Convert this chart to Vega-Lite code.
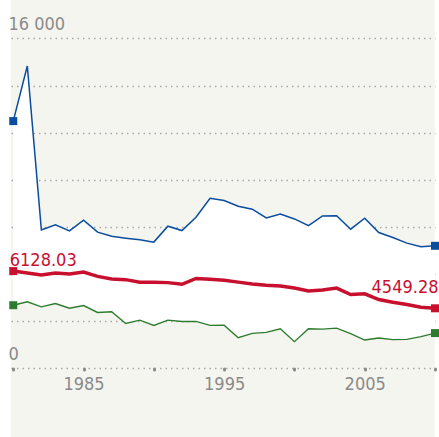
{
  "$schema": "https://vega.github.io/schema/vega-lite/v6.json",
  "width": 424,
  "height": 437,
  "autosize": {"type": "none"},
  "padding": {"left": 11, "right": 4, "top": 0, "bottom": 0},
  "background": "#ffffff",
  "config": {
    "view": {"fill": "#f5f5f0", "stroke": null},
    "font": "DejaVu Sans Condensed, Roboto, sans-serif",
    "axis": {"labelFont": "DejaVu Sans Condensed, Roboto, sans-serif", "labelFontSize": 18, "labelColor": "#8a8a8a", "title": null}
  },
  "data": {
    "values": [
      {"year": 1980, "max": 12494, "mean": 6128.03, "min": 4680},
      {"year": 1981, "max": 14834, "mean": 6049, "min": 4824},
      {"year": 1982, "max": 7878, "mean": 5964, "min": 4612},
      {"year": 1983, "max": 8089, "mean": 6049, "min": 4752},
      {"year": 1984, "max": 7835, "mean": 6006, "min": 4553},
      {"year": 1985, "max": 8287, "mean": 6091, "min": 4667},
      {"year": 1986, "max": 7780, "mean": 5905, "min": 4372},
      {"year": 1987, "max": 7611, "mean": 5795, "min": 4401},
      {"year": 1988, "max": 7527, "mean": 5766, "min": 3907},
      {"year": 1989, "max": 7455, "mean": 5652, "min": 4046},
      {"year": 1990, "max": 7358, "mean": 5652, "min": 3823},
      {"year": 1991, "max": 8034, "mean": 5639, "min": 4046},
      {"year": 1992, "max": 7848, "mean": 5567, "min": 3992},
      {"year": 1993, "max": 8414, "mean": 5816, "min": 3992},
      {"year": 1994, "max": 9216, "mean": 5778, "min": 3823},
      {"year": 1995, "max": 9124, "mean": 5736, "min": 3835},
      {"year": 1996, "max": 8883, "mean": 5660, "min": 3303},
      {"year": 1997, "max": 8756, "mean": 5584, "min": 3485},
      {"year": 1998, "max": 8384, "mean": 5525, "min": 3527},
      {"year": 1999, "max": 8553, "mean": 5491, "min": 3683},
      {"year": 2000, "max": 8342, "mean": 5407, "min": 3134},
      {"year": 2001, "max": 8059, "mean": 5280, "min": 3683},
      {"year": 2002, "max": 8469, "mean": 5322, "min": 3666},
      {"year": 2003, "max": 8482, "mean": 5407, "min": 3709},
      {"year": 2004, "max": 7907, "mean": 5132, "min": 3472},
      {"year": 2005, "max": 8372, "mean": 5162, "min": 3202},
      {"year": 2006, "max": 7764, "mean": 4921, "min": 3286},
      {"year": 2007, "max": 7552, "mean": 4807, "min": 3219},
      {"year": 2008, "max": 7316, "mean": 4710, "min": 3231},
      {"year": 2009, "max": 7160, "mean": 4596, "min": 3345},
      {"year": 2010, "max": 7202, "mean": 4549.28, "min": 3497}
    ]
  },
  "encoding": {
    "x": {
      "field": "year", "type": "quantitative",
      "scale": {"domain": [1979.84, 2010], "nice": false, "zero": false},
      "axis": {
        "values": [1980, 1985, 1990, 1995, 2000, 2005, 2010],
        "labelExpr": "(datum.value - 1985) % 10 == 0 ? datum.value : ''",
        "domain": false, "grid": false,
        "ticks": true, "tickSize": 1, "tickWidth": 3, "tickCap": "round", "tickColor": "#8a8a8a",
        "labelPadding": 6, "labelFlush": false, "labelOverlap": false,
        "offset": -68.6
      }
    }
  },
  "layer": [
    {
      "mark": {"type": "area", "color": "#ffffff", "opacity": 1},
      "encoding": {
        "y": {
          "field": "max", "type": "quantitative",
          "scale": {"domain": [-913, 17634], "nice": false, "zero": false},
          "axis": {
            "values": [2000, 4000, 6000, 8000, 10000, 12000, 14000, 16000],
            "labelExpr": "datum.value == 16000 ? '16 000' : (datum.value == 2000 ? '0' : '')",
            "domain": false, "ticks": false, "tickSize": 0,
            "labelAlign": "left", "labelBaseline": "alphabetic", "labelPadding": 3, "labelOffset": -8.5,
            "grid": true, "gridColor": "#a8a8a8", "gridDash": [1.5, 4], "gridWidth": 1.4,
            "labelOverlap": false
          }
        },
        "y2": {"field": "min"}
      }
    },
    {
      "mark": {"type": "line", "color": "#0a4c9e", "strokeWidth": 1.5},
      "encoding": {"y": {"field": "max", "type": "quantitative"}}
    },
    {
      "mark": {"type": "line", "color": "#c8102e", "strokeWidth": 3.5},
      "encoding": {"y": {"field": "mean", "type": "quantitative"}}
    },
    {
      "mark": {"type": "line", "color": "#2e7d2e", "strokeWidth": 1.4},
      "encoding": {"y": {"field": "min", "type": "quantitative"}}
    },
    {
      "transform": [
        {"filter": "datum.year == 1980 || datum.year == 2010"},
        {"fold": ["max", "mean", "min"], "as": ["series", "value"]}
      ],
      "mark": {"type": "point", "shape": "square", "filled": true, "size": 64, "opacity": 1},
      "encoding": {
        "y": {"field": "value", "type": "quantitative"},
        "color": {
          "field": "series", "type": "nominal",
          "scale": {"domain": ["max", "mean", "min"], "range": ["#0a4c9e", "#c8102e", "#2e7d2e"]},
          "legend": null
        }
      }
    },
    {
      "transform": [{"filter": "datum.year == 1980"}],
      "mark": {"type": "text", "align": "left", "baseline": "alphabetic", "dx": -3.5, "dy": -5, "fontSize": 18, "color": "#c8102e", "font": "DejaVu Sans Condensed, Roboto, sans-serif"},
      "encoding": {
        "y": {"field": "mean", "type": "quantitative"},
        "text": {"field": "mean", "type": "quantitative", "format": ".2f"}
      }
    },
    {
      "transform": [{"filter": "datum.year == 2010"}],
      "mark": {"type": "text", "align": "right", "baseline": "alphabetic", "dx": 3.5, "dy": -15, "fontSize": 18, "color": "#c8102e", "font": "DejaVu Sans Condensed, Roboto, sans-serif"},
      "encoding": {
        "y": {"field": "mean", "type": "quantitative"},
        "text": {"field": "mean", "type": "quantitative", "format": ".2f"}
      }
    }
  ]
}
